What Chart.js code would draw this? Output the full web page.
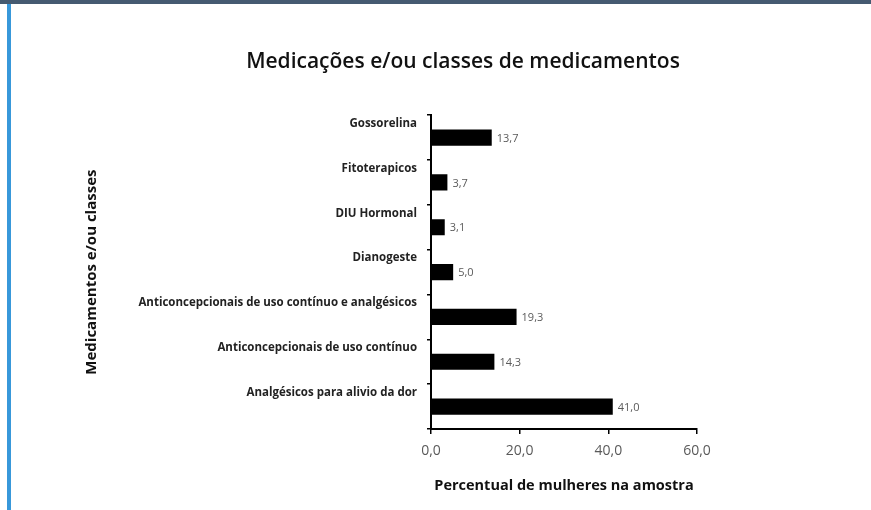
<!DOCTYPE html>
<html lang="pt">
<head>
<meta charset="utf-8">
<title>Medicações e/ou classes de medicamentos</title>
<script src="https://cdn.jsdelivr.net/npm/chart.js@4.4.1/dist/chart.umd.min.js"></script>
<style>
  html, body { margin: 0; padding: 0; background: #fff; }
  #wrap { position: relative; width: 871px; height: 510px; overflow: hidden; }
  #topBar { position: absolute; left: 0; top: 0; width: 871px; height: 4px; background: #455a71; }
  #sideBar { position: absolute; left: 7px; top: 4px; width: 4px; bottom: 0; background: #3898da; }
  #chartBox { position: absolute; left: 0; top: 0; width: 871px; height: 510px; }
</style>
</head>
<body>
<div id="wrap">
  <div id="chartBox"><canvas id="medChart"></canvas></div>
  <div id="topBar"></div>
  <div id="sideBar"></div>
</div>
<script>
const categories = [
  "Gossorelina",
  "Fitoterapicos",
  "DIU Hormonal",
  "Dianogeste",
  "Anticoncepcionais de uso contínuo e analgésicos",
  "Anticoncepcionais de uso contínuo",
  "Analgésicos para alivio da dor"
];
const percentValues = [13.7, 3.7, 3.1, 5.0, 19.3, 14.3, 41.0];
const xTicks = [0, 20, 40, 60];

const chartTitle = "Medicações e/ou classes de medicamentos";
const xTitle = "Percentual de mulheres na amostra";
const yTitle = "Medicamentos e/ou classes";

// numbers with comma decimals, like the original
function fmt(v) {
  return v.toFixed(1).replace(".", ",");
}

// writes the value just right of each bar
const valueLabels = {
  id: "valueLabels",
  afterDatasetsDraw(chart) {
    const ctx = chart.ctx;
    const meta = chart.getDatasetMeta(0);
    ctx.save();
    ctx.font = "11px 'Open Sans'";
    ctx.fillStyle = "#5a5a5a";
    ctx.textAlign = "left";
    ctx.textBaseline = "middle";
    meta.data.forEach((bar, i) => {
      ctx.fillText(fmt(percentValues[i]), bar.x + 5, bar.y + 1);
    });
    ctx.restore();
  }
};

const ctx = document.getElementById("medChart").getContext("2d");
new Chart(ctx, {
  type: "bar",
  data: {
    labels: categories,
    datasets: [{
      data: percentValues,
      backgroundColor: "#000",
      borderWidth: 0,
      barPercentage: 0.36,
      categoryPercentage: 1
    }]
  },
  options: {
    indexAxis: "y",
    responsive: true,
    maintainAspectRatio: false,
    animation: false,
    layout: {
      padding: { left: 83, right: 28, top: 30, bottom: 15 }
    },
    plugins: {
      legend: { display: false },
      tooltip: { enabled: false },
      title: {
        display: true,
        text: chartTitle,
        color: "#111",
        font: { family: "'Open Sans'", size: 21, weight: "600", lineHeight: 1.2 },
        padding: { top: 19, bottom: 41 }
      }
    },
    scales: {
      x: {
        min: 0,
        max: 60,
        afterBuildTicks: (s) => { s.ticks = xTicks.map((v) => ({ value: v })); },
        afterFit: (s) => { s.height = 66; },
        border: { color: "#000", width: 2 },
        grid: { drawOnChartArea: false, color: "#000", lineWidth: 1.5, tickLength: 5 },
        ticks: {
          color: "#5a5a5a",
          padding: 9,
          font: { family: "'Open Sans'", size: 14 },
          callback: (v) => fmt(v)
        },
        title: {
          display: true,
          text: xTitle,
          color: "#111",
          font: { family: "'Open Sans'", size: 14.5, weight: "bold", lineHeight: 1.2 },
          padding: { top: 4, bottom: 0 }
        }
      },
      y: {
        afterFit: (s) => { s.width = 348; },
        border: { color: "#000", width: 2 },
        grid: { drawOnChartArea: false, color: "#000", lineWidth: 1.5, tickLength: 4, offset: true },
        ticks: {
          color: "#222",
          padding: 10,
          labelOffset: -14,
          autoSkip: false,
          font: { family: "'Open Sans'", size: 11.5, weight: "bold" }
        },
        title: {
          display: true,
          text: yTitle,
          color: "#111",
          font: { family: "'Open Sans'", size: 15, weight: "bold", lineHeight: 1.2 },
          padding: { top: 0, bottom: 0 }
        }
      },
      // empty right axis, only keeps the plot narrow so the title sits where it did
      ySpace: {
        type: "category",
        position: "right",
        afterFit: (s) => { s.width = 146; },
        border: { display: false },
        grid: { display: false },
        ticks: { display: false }
      }
    }
  },
  plugins: [valueLabels]
});
</script>
</body>
</html>
